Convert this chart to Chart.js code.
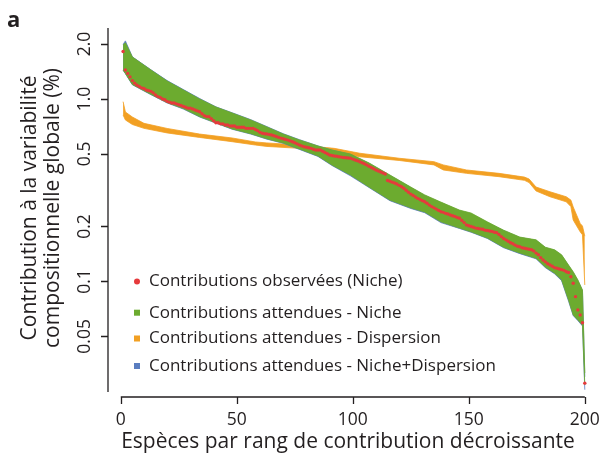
<!DOCTYPE html>
<html>
<head>
<meta charset="utf-8">
<script src="https://cdn.jsdelivr.net/npm/chart.js@4.4.1/dist/chart.umd.min.js"></script>
<style>
  body { margin: 0; background: #fff; }
  canvas { display: block; }
</style>
</head>
<body>
<canvas id="chart" width="601" height="453"></canvas>
<script>
// -------------------------------
// DATA
// -------------------------------
// observed contribution (%) of each species, rank 1..200
const observed = [
  1.82, 1.44, 1.38, 1.32, 1.26, 1.22, 1.19, 1.17, 1.15, 1.14,
  1.12, 1.11, 1.10, 1.08, 1.05, 1.03, 1.02, 1.00, 0.99, 0.97,
  0.96, 0.95, 0.95, 0.94, 0.93, 0.92, 0.91, 0.90, 0.89, 0.89,
  0.88, 0.87, 0.86, 0.85, 0.83, 0.81, 0.80, 0.80, 0.78, 0.76,
  0.74, 0.74, 0.73, 0.73, 0.72, 0.72, 0.71, 0.71, 0.71, 0.70,
  0.70, 0.70, 0.70, 0.69, 0.69, 0.69, 0.69, 0.68, 0.67, 0.656,
  0.648, 0.645, 0.642, 0.638, 0.634, 0.628, 0.622, 0.616, 0.61, 0.605,
  0.60, 0.595, 0.589, 0.583, 0.575, 0.567, 0.559, 0.553, 0.547, 0.543,
  0.54, 0.536, 0.53, 0.525, 0.525, 0.525, 0.517, 0.509, 0.501, 0.493,
  0.49, 0.487, 0.485, 0.482, 0.48, 0.478, 0.476, 0.475, 0.473, 0.468,
  0.463, 0.458, 0.453, 0.447, 0.441, 0.435, 0.428, 0.421, 0.414, 0.408,
  0.403, 0.398, 0.393, 0.388, 0.357, 0.354, 0.35, 0.346, 0.342, 0.336,
  0.33, 0.324, 0.316, 0.308, 0.301, 0.296, 0.29, 0.285, 0.281, 0.277,
  0.273, 0.268, 0.262, 0.257, 0.253, 0.249, 0.245, 0.241, 0.239, 0.236,
  0.234, 0.231, 0.229, 0.227, 0.224, 0.222, 0.216, 0.21, 0.204, 0.202,
  0.2, 0.198, 0.196, 0.195, 0.194, 0.193, 0.191, 0.19, 0.189, 0.188,
  0.186, 0.185, 0.181, 0.176, 0.172, 0.169, 0.166, 0.163, 0.161, 0.158,
  0.156, 0.155, 0.153, 0.152, 0.151, 0.15, 0.149, 0.147, 0.143, 0.14,
  0.135, 0.131, 0.128, 0.125, 0.123, 0.121, 0.119, 0.118, 0.117, 0.116,
  0.115, 0.113, 0.112, 0.106, 0.0977, 0.0825, 0.0698, 0.0655, 0.0594, 0.0277
];

// expected envelopes: ranks where the band edges were read
const bandRanks = [1, 2, 5, 13, 20, 27, 34, 41, 48, 56, 63, 70, 77, 85, 91, 99, 107, 116, 125, 131,
  138, 146, 151, 158, 165, 172, 179, 183, 187, 190, 193, 195, 197, 199, 200];

// Niche
const nicheHigh = [1.975, 2.03, 1.697, 1.441, 1.253, 1.119, 0.999, 0.903, 0.837, 0.767, 0.702, 0.642, 0.596, 0.552, 0.525, 0.499, 0.446, 0.383, 0.329, 0.298,
  0.272, 0.246, 0.237, 0.212, 0.191, 0.175, 0.169, 0.154, 0.149, 0.140, 0.123, 0.113, 0.102, 0.0898, 0.0315];
const nicheLow = [1.441, 1.38, 1.20, 1.06, 0.955, 0.885, 0.80, 0.74, 0.685, 0.645, 0.605, 0.574, 0.532, 0.487, 0.435, 0.383, 0.329, 0.279, 0.253, 0.240,
  0.212, 0.196, 0.187, 0.173, 0.154, 0.143, 0.134, 0.120, 0.111, 0.102, 0.0791, 0.0655, 0.0615, 0.0577, 0.0271];

// Niche+Dispersion (almost hidden under the Niche band)
const mixHigh = [1.99, 2.08, 1.70, 1.445, 1.26, 1.125, 1.005, 0.905, 0.84, 0.77, 0.705, 0.645, 0.598, 0.553, 0.524, 0.497, 0.444, 0.381, 0.327, 0.296,
  0.270, 0.244, 0.235, 0.210, 0.190, 0.174, 0.168, 0.153, 0.148, 0.139, 0.122, 0.112, 0.101, 0.089, 0.030];
const mixLow = [1.435, 1.375, 1.195, 1.055, 0.95, 0.88, 0.796, 0.737, 0.682, 0.642, 0.602, 0.571, 0.529, 0.484, 0.432, 0.379, 0.327, 0.277, 0.251, 0.238,
  0.210, 0.195, 0.186, 0.172, 0.153, 0.142, 0.133, 0.119, 0.110, 0.101, 0.078, 0.065, 0.061, 0.057, 0.0255];

// Dispersion
const dispRanks = [1, 2, 5, 10, 20, 34, 48, 58, 63, 77, 92, 103, 120, 135, 139, 149, 163, 174, 176, 179,
  185, 192, 194, 195, 198, 199, 200];
const dispHigh = [0.966, 0.848, 0.796, 0.735, 0.689, 0.642, 0.611, 0.581, 0.574, 0.559, 0.536, 0.504, 0.473, 0.453, 0.435, 0.408, 0.391, 0.373, 0.364, 0.329,
  0.310, 0.291, 0.279, 0.256, 0.208, 0.201, 0.177];
const dispLow = [0.817, 0.767, 0.724, 0.690, 0.651, 0.615, 0.583, 0.559, 0.549, 0.536, 0.514, 0.482, 0.460, 0.435, 0.408, 0.391, 0.375, 0.358, 0.348, 0.313,
  0.291, 0.273, 0.257, 0.217, 0.187, 0.180, 0.0956];

const xTicks = [0, 50, 100, 150, 200];
const yTicks = [0.05, 0.1, 0.2, 0.5, 1.0, 2.0];
const yTickLabels = ["0.05", "0.1", "0.2", "0.5", "1.0", "2.0"];

const legendLabels = [
  "Contributions observées (Niche)",
  "Contributions attendues - Niche",
  "Contributions attendues - Dispersion",
  "Contributions attendues - Niche+Dispersion"
];
const xTitle = "Espèces par rang de contribution décroissante";
const yTitle = ["Contribution à la variabilité", "compositionnelle globale (%)"];

// colours
const RED = "#e63a3c";
const GREEN = "#6cab2f";
const ORANGE = "#f2a023";
const BLUE = "#5a7dc0";
const INK = "#231f20";
const FONT = "'Open Sans', 'Noto Sans', sans-serif";

// -------------------------------
// HELPERS
// -------------------------------
function pts(xs, ys) {
  return xs.map((x, i) => ({ x: x, y: ys[i] }));
}

function band(label, xs, hi, lo, color) {
  return [
    { label: label, data: pts(xs, hi), fill: "+1", backgroundColor: color,
      borderColor: color, borderWidth: 0.8, pointRadius: 0, tension: 0 },
    { label: label + " low", data: pts(xs, lo), fill: false,
      borderColor: color, borderWidth: 0.8, pointRadius: 0, tension: 0 }
  ];
}

// axes, titles and legend drawn on top, placed with the chart's own scales
const decorPlugin = {
  id: "decor",
  afterDraw(chart) {
    const c = chart.ctx;
    const xs = chart.scales.x;
    const ys = chart.scales.y;
    const area = chart.chartArea;
    c.save();
    c.strokeStyle = INK;
    c.fillStyle = INK;
    c.lineWidth = 1.3;

    // y axis
    const ax = area.left;
    c.beginPath();
    c.moveTo(ax, area.top);
    c.lineTo(ax, area.bottom);
    yTicks.forEach(v => {
      const py = Math.round(ys.getPixelForValue(v)) + 0.5;
      c.moveTo(ax, py);
      c.lineTo(ax - 7, py);
    });
    c.stroke();
    c.font = "17.5px " + FONT;
    c.textAlign = "center";
    c.textBaseline = "alphabetic";
    yTicks.forEach((v, i) => {
      const py = ys.getPixelForValue(v);
      c.save();
      c.translate(90, py);
      c.rotate(-Math.PI / 2);
      c.fillText(yTickLabels[i], 0, 0);
      c.restore();
    });

    // x axis
    const ay = area.bottom + 5;
    c.beginPath();
    c.moveTo(xs.getPixelForValue(xTicks[0]), ay);
    c.lineTo(xs.getPixelForValue(xTicks[xTicks.length - 1]), ay);
    xTicks.forEach(v => {
      const px = Math.round(xs.getPixelForValue(v)) + 0.5;
      c.moveTo(px, ay);
      c.lineTo(px, ay + 7);
    });
    c.stroke();
    xTicks.forEach(v => {
      c.fillText(String(v), xs.getPixelForValue(v), 425);
    });

    // axis titles
    c.font = "21px " + FONT;
    c.fillText(xTitle, 348, 448);
    c.save();
    c.translate(36, 208);
    c.rotate(-Math.PI / 2);
    c.fillText(yTitle[0], 0, 0);
    c.fillText(yTitle[1], 0, 23);
    c.restore();

    // panel letter
    c.font = "bold 22px " + FONT;
    c.textAlign = "left";
    c.fillText("a", 7, 27);

    // legend
    const lx = 137;
    const rows = [281.5, 312.7, 338.5, 366];
    const cols = [RED, GREEN, ORANGE, BLUE];
    c.font = "17px " + FONT;
    c.textBaseline = "middle";
    rows.forEach((ry, i) => {
      c.fillStyle = cols[i];
      if (i === 0) {
        c.beginPath();
        c.arc(lx, ry, 3, 0, Math.PI * 2);
        c.fill();
      } else {
        c.fillRect(lx - 3, ry - 3, 6, 6);
      }
      c.fillStyle = INK;
      c.fillText(legendLabels[i], 149, ry);
    });
    c.restore();
  }
};

// -------------------------------
// DRAW CHART
// -------------------------------
const ranks = observed.map((v, i) => i + 1);

const datasets = [
  { label: legendLabels[0], data: pts(ranks, observed), showLine: false,
    pointRadius: 1.7, pointBackgroundColor: RED, pointBorderWidth: 0, borderColor: RED }
]
  .concat(band(legendLabels[1], bandRanks, nicheHigh, nicheLow, GREEN))
  .concat(band(legendLabels[3], bandRanks, mixHigh, mixLow, BLUE))
  .concat(band(legendLabels[2], dispRanks, dispHigh, dispLow, ORANGE));

new Chart(document.getElementById("chart").getContext("2d"), {
  type: "line",
  data: { datasets: datasets },
  options: {
    responsive: false,
    animation: false,
    layout: { padding: { left: 108, right: 4.6, top: 28, bottom: 61 } },
    scales: {
      x: { type: "linear", min: -5.5, max: 205, display: false },
      y: { type: "logarithmic", min: 0.02478, max: 2.447, display: false }
    },
    plugins: {
      legend: { display: false },
      tooltip: { enabled: false }
    }
  },
  plugins: [decorPlugin]
});
</script>
</body>
</html>
